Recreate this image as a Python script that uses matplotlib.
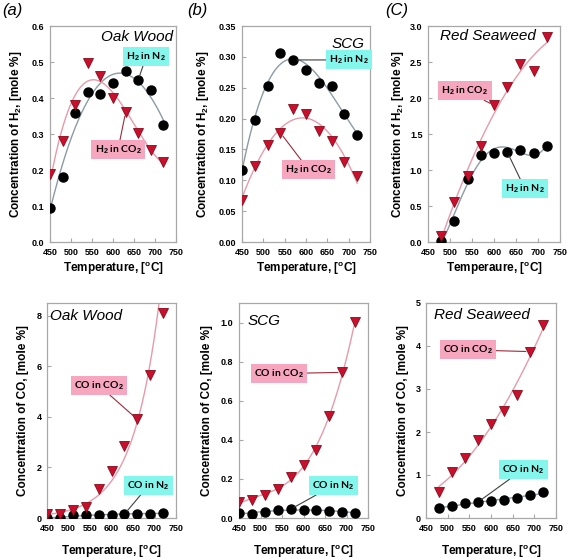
import numpy as np
import matplotlib
matplotlib.use("Agg")
import matplotlib.pyplot as plt

plt.rcParams['font.family'] = ['Liberation Sans', 'DejaVu Sans']
plt.rcParams['font.weight'] = 'bold'
plt.rcParams['mathtext.fontset'] = 'custom'
plt.rcParams['mathtext.rm'] = 'Liberation Sans'
plt.rcParams['mathtext.bf'] = 'Liberation Sans:bold'
plt.rcParams['mathtext.it'] = 'Liberation Sans:italic'

# temperatures, [C]
temp = [450, 480, 510, 540, 570, 600, 630, 660, 690, 720]
temp_rs = [480, 510, 540, 570, 600, 630, 660, 690, 720]

# H2 concentrations, [mole %]
h2_oak_n2 = [0.095, 0.18, 0.357, 0.418, 0.41, 0.443, 0.474, 0.45, 0.423, 0.325]
h2_oak_co2 = [0.19, 0.28, 0.38, 0.497, 0.46, 0.40, 0.36, 0.302, 0.255, 0.222]
h2_scg_n2 = [0.117, 0.198, 0.252, 0.306, 0.295, 0.279, 0.258, 0.252, 0.208, 0.173]
h2_scg_co2 = [0.068, 0.123, 0.157, 0.177, 0.216, 0.208, 0.180, 0.164, 0.130, 0.107]
h2_rs_n2 = [0.01, 0.29, 0.87, 1.21, 1.24, 1.25, 1.28, 1.23, 1.34]
h2_rs_co2 = [0.08, 0.55, 0.91, 1.34, 1.90, 2.15, 2.47, 2.37, 2.85]

# CO concentrations, [mole %]
co_oak_n2 = [0.0, 0.0, 0.10, 0.12, 0.13, 0.13, 0.15, 0.16, 0.17, 0.20]
co_oak_co2 = [0.15, 0.17, 0.33, 0.45, 1.15, 1.85, 2.85, 3.9, 5.65, 8.1]
co_scg_n2 = [0.025, 0.02, 0.03, 0.04, 0.045, 0.04, 0.04, 0.038, 0.03, 0.028]
co_scg_co2 = [0.08, 0.09, 0.12, 0.15, 0.21, 0.27, 0.35, 0.52, 0.745, 1.005]
co_rs_n2 = [0.23, 0.28, 0.36, 0.37, 0.39, 0.41, 0.46, 0.53, 0.60]
co_rs_co2 = [0.60, 1.07, 1.40, 1.82, 2.18, 2.50, 2.85, 3.87, 4.48]

CYAN = '#84F6EC'
PINK = '#F7A6BF'
GRAY_FIT = '#8C9BA5'
PINK_FIT = '#E79AA9'
FRAME = '#A8A8A8'

fig = plt.figure(figsize=(5.67, 5.59), dpi=100)
W, H = 567.0, 559.0


def make_ax(x0, x1, y0, y1):
    return fig.add_axes([x0 / W, 1 - y1 / H, (x1 - x0) / W, (y1 - y0) / H])


def fit(x, y, deg, kind='poly'):
    xs = np.linspace(min(x), max(x), 200)
    if kind == 'exp':
        c = np.polyfit(x, np.log(np.array(y) + 1e-9), deg)
        return xs, np.exp(np.polyval(c, xs))
    c = np.polyfit(x, y, deg)
    return xs, np.polyval(c, xs)


def panel(ax, x, n2, co2, deg_n2, deg_co2, kind_n2='poly', kind_co2='poly'):
    xs, ys = fit(x, n2, deg_n2, kind_n2)
    ax.plot(xs, ys, color=GRAY_FIT, lw=1.0, zorder=2)
    xs, ys = fit(x, co2, deg_co2, kind_co2)
    ax.plot(xs, ys, color=PINK_FIT, lw=1.0, zorder=2)
    ax.plot(x, n2, 'o', color='black', ms=6.5, zorder=3)
    ax.plot(x, co2, 'v', mfc='#C8102E', mec='#8A0A1A', mew=0.6, ms=7, zorder=4)
    ax.set_xlim(450, 750)
    ax.set_xticks(range(450, 751, 50))
    for s in ax.spines.values():
        s.set_color(FRAME)
        s.set_linewidth(0.9)
    ax.tick_params(direction='in', length=3, width=0.8, color=FRAME,
                   labelsize=6.5, pad=4)


def box(ax, text, xy, xytext, fc, lc):
    ax.annotate(text, xy=xy, xytext=xytext, ha='center', va='center',
                fontsize=7.5, family=['Lato', 'Liberation Sans'], weight='bold',
                bbox=dict(boxstyle='square,pad=0.3', fc=fc, ec='none'),
                arrowprops=dict(arrowstyle='-', color=lc, lw=0.8,
                                shrinkA=0, shrinkB=3), zorder=5)


def labels(ax, ylab, xlab, ylx, xly):
    ax.set_ylabel(ylab, fontsize=8.5, weight='bold')
    ax.set_xlabel(xlab, fontsize=8.5, weight='bold')
    ax.yaxis.set_label_coords(ylx, 0.5)
    ax.xaxis.set_label_coords(0.5, xly)


def name(ax, text, x, y, ha):
    ax.text(x, y, text, transform=ax.transAxes, ha=ha, va='top',
            fontsize=11, style='italic', weight='normal')


h2_lab = r'Concentration of H$_\mathbf{2}$, [mole %]'
co_lab = 'Concentration of CO, [mole %]'
t_lab = r'Temperature, [$^\mathbf{o}$C]'
h2n2 = r'H$_\mathbf{2}$ in N$_\mathbf{2}$'
h2co2 = r'H$_\mathbf{2}$ in CO$_\mathbf{2}$'
con2 = r'CO in N$_\mathbf{2}$'
coco2 = r'CO in CO$_\mathbf{2}$'

# ---- top row: H2 ----
ax = make_ax(50, 176, 26, 242)
panel(ax, temp, h2_oak_n2, h2_oak_co2, 3, 3)
ax.set_ylim(0, 0.6)
ax.set_yticks(np.arange(0, 0.61, 0.1))
ax.yaxis.set_major_formatter('{x:.1f}')
labels(ax, h2_lab, t_lab, -0.206, -0.083)
name(ax, 'Oak Wood', 0.98, 0.98, 'right')
box(ax, h2n2, (660, 0.45), (679, 0.515), CYAN, '#404040')
box(ax, h2co2, (630, 0.36), (612, 0.257), PINK, '#9E2A3A')

ax = make_ax(242, 370, 26, 242)
panel(ax, temp, h2_scg_n2, h2_scg_co2, 3, 2)
ax.set_ylim(0, 0.35)
ax.set_yticks(np.arange(0, 0.351, 0.05))
ax.yaxis.set_major_formatter('{x:.2f}')
labels(ax, h2_lab, t_lab, -0.242, -0.083)
name(ax, 'SCG', 0.96, 0.95, 'right')
box(ax, h2n2, (570, 0.295), (701, 0.295), CYAN, '#404040')
box(ax, h2co2, (540, 0.177), (606, 0.117), PINK, '#9E2A3A')

ax = make_ax(428, 560, 26, 242)
panel(ax, temp_rs, h2_rs_n2, h2_rs_co2, 4, 2)
ax.set_ylim(0, 3.0)
ax.set_yticks(np.arange(0, 3.01, 0.5))
ax.yaxis.set_major_formatter('{x:.1f}')
labels(ax, h2_lab, r'Temperaure, [$^\mathbf{o}$C]', -0.167, -0.083)
name(ax, 'Red Seaweed', 0.09, 0.985, 'left')
box(ax, h2co2, (600, 1.90), (534, 2.10), PINK, '#9E2A3A')
box(ax, h2n2, (630, 1.25), (670, 0.743), CYAN, '#404040')

# ---- bottom row: CO ----
ax = make_ax(47, 176, 303, 518)
panel(ax, temp, co_oak_n2, co_oak_co2, 2, 1, kind_co2='exp')
ax.set_ylim(0, 8.5)
ax.set_yticks(range(0, 9, 2))
labels(ax, co_lab, t_lab, -0.14, -0.116)
name(ax, 'Oak Wood', 0.02, 0.97, 'left')
box(ax, coco2, (660, 3.9), (571, 5.24), PINK, '#9E2A3A')
box(ax, con2, (630, 0.15), (686, 1.28), CYAN, '#404040')

ax = make_ax(239, 368, 303, 518)
panel(ax, temp, co_scg_n2, co_scg_co2, 2, 3)
ax.set_ylim(0, 1.1)
ax.set_yticks(np.arange(0, 1.01, 0.2))
ax.yaxis.set_major_formatter('{x:.1f}')
labels(ax, co_lab, t_lab, -0.20, -0.116)
name(ax, 'SCG', 0.07, 0.95, 'left')
box(ax, coco2, (690, 0.745), (543, 0.739), PINK, '#9E2A3A')
box(ax, con2, (570, 0.045), (669, 0.166), CYAN, '#404040')

ax = make_ax(426, 556, 303, 518)
panel(ax, temp_rs, co_rs_n2, co_rs_co2, 1, 2)
ax.set_ylim(0, 5)
ax.set_yticks(range(0, 6))
labels(ax, co_lab, t_lab, -0.13, -0.116)
name(ax, 'Red Seaweed', 0.06, 0.975, 'left')
box(ax, coco2, (690, 3.87), (546, 3.91), PINK, '#9E2A3A')
box(ax, con2, (570, 0.37), (674, 1.13), CYAN, '#404040')

# panel letters
for x, s in [(2, '(a)'), (187, '(b)'), (385, '(C)')]:
    fig.text(x / W, 1 - 10 / H, s, fontsize=12, style='italic',
             weight='normal', va='center')

fig.savefig('out.png', dpi=100)
